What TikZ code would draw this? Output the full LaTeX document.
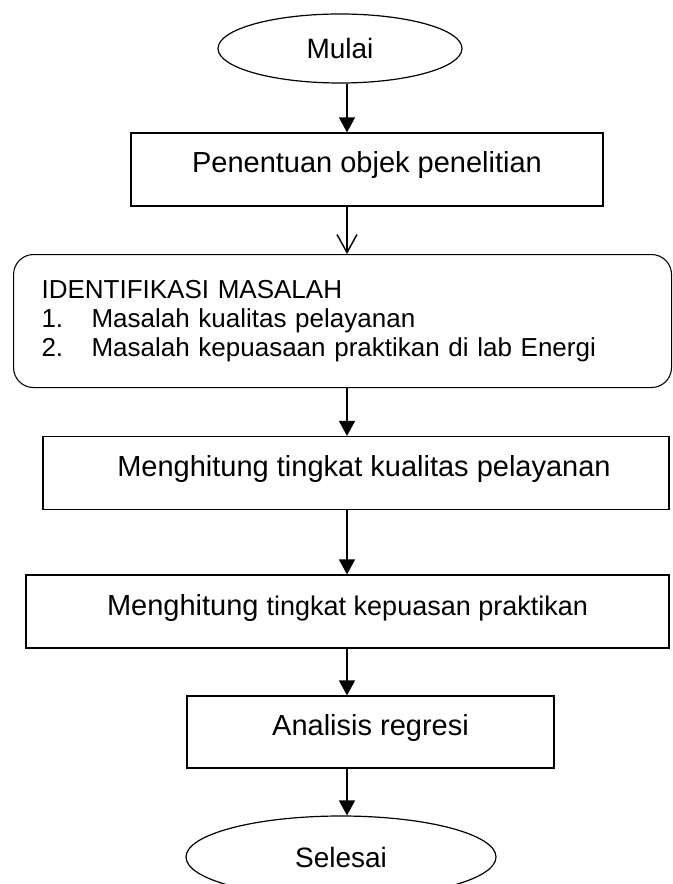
\documentclass[tikz,border=0pt]{standalone}
\usepackage{fontspec}
\setmainfont{Liberation Sans}
\usetikzlibrary{shapes.geometric,arrows.meta}

\begin{document}
\begin{tikzpicture}[x=0.75pt, y=-0.75pt,
		box/.style={draw, line width=0.9pt, rectangle, minimum height=54.75pt, inner sep=0pt, text height=15.75pt, text depth=10.5pt, font=\fontsize{21.75pt}{26pt}\selectfont},
		term/.style={draw, line width=0.9pt, ellipse, inner sep=0pt, font=\fontsize{21pt}{25pt}\selectfont},
		flow/.style={line width=1.1pt, -{Triangle[length=11.25pt, width=12pt]}},
		flowopen/.style={line width=1.1pt, -{Straight Barb[length=13.5pt, width=15pt]}}]
			\useasboundingbox (0,0) rectangle (672,884);
			\clip (0,0) rectangle (672,884);
			\coordinate (axis) at (347,0);
			\node[term, minimum width=183pt, minimum height=51.75pt] (start) at (340,48.5) {Mulai};
			\node[box, minimum width=354pt] (obj) at (367,169.5) {Penentuan objek penelitian};
			\node[draw, line width=0.8pt, rounded corners=15pt, anchor=north west, minimum width=493.5pt, minimum height=99.75pt, inner xsep=21pt, inner ysep=0pt, text width=451.5pt, align=left, font=\fontsize{19.5pt}{21.75pt}\selectfont] (idm) at (13,254) {IDENTIFIKASI MASALAH\\\makebox[37.5pt][l]{1.}Masalah kualitas pelayanan\\\makebox[37.5pt][l]{2.}Masalah kepuasaan praktikan di lab Energi};
			\node[box, minimum width=469.5pt] (kual) at (356,473) {\hspace*{12pt}Menghitung tingkat kualitas pelayanan};
			\node[box, minimum width=482.25pt] (puas) at (347.5,611.5) {Menghitung {\fontsize{20.25pt}{24pt}\selectfont tingkat kepuasan praktikan}};
			\node[box, minimum width=275.25pt, minimum height=54pt] (reg) at (370.5,732) {Analisis regresi};
			\node[term, minimum width=232.5pt, minimum height=61.5pt] (end) at (341,857) {Selesai};
			\draw[flow] (axis |- start.south) -- (axis |- obj.north);
			\draw[flowopen] (axis |- obj.south) -- (axis |- idm.north);
			\draw[flow] (axis |- idm.south) -- (axis |- kual.north);
			\draw[flow] (axis |- kual.south) -- (axis |- puas.north);
			\draw[flow] (axis |- puas.south) -- (axis |- reg.north);
			\draw[flow] (axis |- reg.south) -- (axis |- end.north);
		\end{tikzpicture}
\end{document}
